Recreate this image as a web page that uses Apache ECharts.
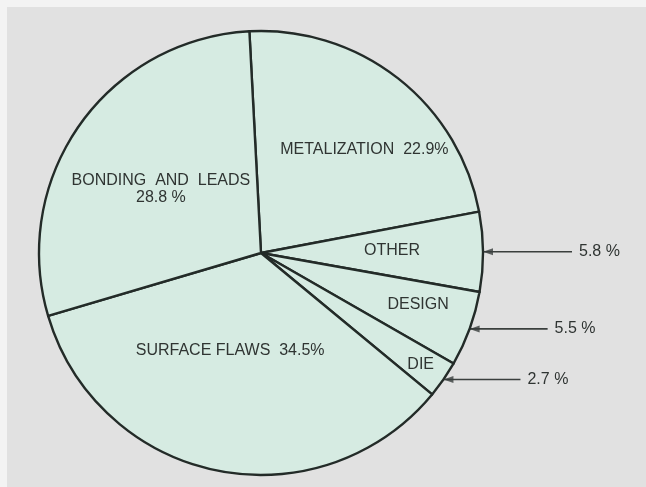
<!DOCTYPE html>
<html>
<head>
<meta charset="utf-8">
<script src="https://cdn.jsdelivr.net/npm/echarts@6/dist/echarts.min.js"></script>
<style>
  html, body { margin: 0; padding: 0; background: #f3f3f3; }
  #chart { width: 646px; height: 487px; background: #e1e1e1; box-shadow: inset 7px 7px 0 0 #f3f3f3; }
</style>
</head>
<body>
<div id="chart"></div>
<script>
// ---- data ----
const categories = ['METALIZATION', 'OTHER', 'DESIGN', 'DIE', 'SURFACE FLAWS', 'BONDING AND LEADS'];
const values = [22.9, 5.8, 5.5, 2.7, 34.5, 28.8];
const insideLabels = ['METALIZATION  22.9%', 'OTHER', 'DESIGN', 'DIE', 'SURFACE FLAWS  34.5%', 'BONDING  AND  LEADS\n28.8 %'];
const outsideLabels = ['', '5.8 %', '5.5 %', '2.7 %', '', ''];

// ---- style / placement ----
const CENTER = [261, 253];
const RADIUS = 222;
const START = 93;
const labelShift = [[33, -14], [17, -2], [50, 13], [66, 47], [-8, -14], [-7, 2]];
const arrowLen = [0, 89, 78, 77, 0, 0];
const TEXT = '#2f3432';

const total = values.reduce((a, b) => a + b, 0);
let cum = 0;
const mids = values.map(v => { const m = cum + v / 2; cum += v; return m; });

const chart = echarts.init(document.getElementById('chart'), null, { renderer: 'canvas' });
chart.setOption({
  animation: false,
  backgroundColor: 'transparent',
  polar: { center: CENTER, radius: RADIUS },
  angleAxis: { type: 'value', min: 0, max: total, startAngle: START, clockwise: true, show: false },
  radiusAxis: { type: 'value', min: 0, max: 1, show: false },
  series: [
    {
      type: 'pie',
      center: CENTER,
      radius: [0, RADIUS],
      startAngle: START,
      clockwise: true,
      avoidLabelOverlap: false,
      silent: true,
      emphasis: { disabled: true },
      itemStyle: { color: '#d6ebe2', borderColor: '#232b28', borderWidth: 2.4 },
      label: {
        show: true,
        position: 'inside',
        color: TEXT,
        fontFamily: 'Liberation Sans',
        fontSize: 16,
        lineHeight: 17,
        align: 'center',
        formatter: p => insideLabels[p.dataIndex]
      },
      labelLine: { show: false },
      labelLayout: p => ({ dx: labelShift[p.dataIndex][0], dy: labelShift[p.dataIndex][1] }),
      data: categories.map((c, i) => ({ name: c, value: values[i] }))
    },
    {
      type: 'pie',
      center: CENTER,
      radius: [0, RADIUS],
      startAngle: START,
      clockwise: true,
      avoidLabelOverlap: false,
      silent: true,
      emphasis: { disabled: true },
      itemStyle: { color: 'rgba(0,0,0,0)', borderWidth: 0 },
      label: {
        show: true,
        position: 'outside',
        alignTo: 'none',
        distanceToLabelLine: 7,
        color: TEXT,
        fontFamily: 'Liberation Sans',
        fontSize: 16,
        formatter: p => outsideLabels[p.dataIndex]
      },
      labelLine: { show: true, length: 0, length2: 80, lineStyle: { color: '#3a3f3d', width: 1.6 } },
      data: categories.map((c, i) => ({
        name: c,
        value: values[i],
        label: { show: outsideLabels[i] !== '' },
        labelLine: { show: outsideLabels[i] !== '', length: 0, length2: arrowLen[i] }
      }))
    },
    {
      type: 'scatter',
      coordinateSystem: 'polar',
      silent: true,
      symbol: 'triangle',
      symbolSize: [7, 10],
      symbolRotate: 90,
      symbolOffset: [5, 0],
      itemStyle: { color: '#3a3f3d' },
      data: mids.map((m, i) => [1, m]).filter((d, i) => outsideLabels[i] !== '')
    }
  ]
});
</script>
</body>
</html>
